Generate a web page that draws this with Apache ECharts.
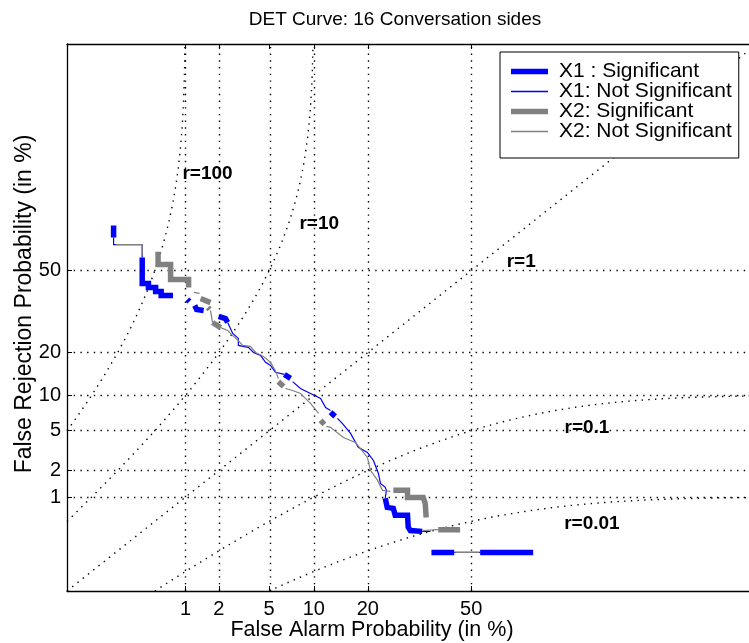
<!DOCTYPE html>
<html><head><meta charset="utf-8">
<script src="https://cdn.jsdelivr.net/npm/echarts@6/dist/echarts.min.js"></script>
<style>html,body{margin:0;padding:0;background:#fff}#c{width:749px;height:643px}</style>
</head><body><div id="c"></div>
<script>
// ---- data (probabilities in %) ----
const tickValues = [1, 2, 5, 10, 20, 50];
const tickLabels = ['1', '2', '5', '10', '20', '50'];
const axisRange = [0.05, 99];
const rValues = [100, 10, 1, 0.1, 0.01];
const rLabels = ['r=100', 'r=10', 'r=1', 'r=0.1', 'r=0.01'];
const rLabelPos = [[1.59, 84.0], [10.8, 68.5], [65.8, 53.7], [82.7, 5.36], [83.7, 0.47]];

// X1 significant (thick blue) segments: [Pfa, Pmiss]
const x1Sig = [
  [[0.18, 67.8], [0.18, 63.3]],
  [[0.37, 55.3], [0.37, 44.7], [0.43, 44.7], [0.43, 43.1], [0.51, 43.1], [0.51, 41.5], [0.58, 41.5], [0.58, 39.9], [0.76, 39.9]],
  [[1.04, 38.3], [1.09, 37.5]],
  [[1.22, 36.0], [1.27, 34.5], [1.47, 34.1]],
  [[1.99, 31.9], [2.27, 31.1], [2.37, 29.7]],
  [[6.42, 14.3], [7.07, 13.4]],
  [[12.6, 7.28], [13.4, 6.71]],
  [[24.2, 0.97], [24.7, 0.75], [26.3, 0.73], [26.8, 0.60], [30.2, 0.60], [30.4, 0.42], [31.0, 0.38], [34.5, 0.37]],
  [[37.3, 0.19], [44.5, 0.19]],
  [[52.9, 0.19], [69.3, 0.19]]
];
// X1 not significant (thin blue)
const x1NotSig = [
  [[0.18, 63.3], [0.18, 60.5], [0.37, 60.5], [0.37, 55.3]],
  [[2.37, 29.7], [2.61, 25.9], [2.90, 24.3], [2.90, 22.1], [3.48, 21.5], [3.82, 20.0], [4.32, 19.2], [4.70, 17.3], [5.12, 16.5], [5.55, 14.8], [6.42, 14.3]],
  [[7.30, 12.7], [8.22, 11.3], [9.54, 10.35], [11.0, 9.46], [11.8, 7.99], [12.6, 7.55]],
  [[13.8, 6.45], [14.7, 5.82], [16.3, 4.72], [17.9, 3.47], [19.9, 3.09], [21.3, 2.56], [22.5, 1.86], [23.0, 1.44], [24.2, 1.30], [24.5, 1.20], [24.2, 0.97]],
  [[34.5, 0.37], [37.0, 0.37]],
  [[44.5, 0.19], [52.9, 0.19]]
];
// X2 significant (thick gray)
const x2Sig = [
  [[0.54, 57.7], [0.54, 52.5], [0.72, 52.5], [0.72, 46.3], [1.07, 46.3], [1.07, 43.1]],
  [[1.38, 38.7], [1.69, 37.1]],
  [[1.60, 35.2], [1.66, 34.5]],
  [[1.76, 29.7], [2.07, 27.9]],
  [[5.82, 12.7], [6.33, 11.7]],
  [[11.0, 6.19], [11.6, 5.71]],
  [[26.3, 1.20], [30.2, 1.20], [30.2, 0.99], [34.8, 0.99], [35.4, 0.84], [35.7, 0.56]],
  [[39.4, 0.39], [46.4, 0.39]]
];
// X2 not significant (thin gray)
const x2NotSig = [
  [[0.19, 60.5], [0.37, 60.5], [0.37, 56.1]],
  [[1.20, 41.1], [1.35, 40.7]],
  [[1.69, 34.1], [1.76, 29.7]],
  [[2.07, 27.9], [2.37, 26.9], [2.61, 25.2], [2.90, 23.6], [3.14, 22.1], [3.61, 21.8], [3.96, 20.0], [4.54, 18.9], [5.12, 17.3], [5.55, 15.2], [5.82, 13.4]],
  [[6.52, 11.3], [7.30, 10.9], [8.22, 10.35], [9.54, 8.62], [10.7, 7.13]],
  [[11.9, 5.47], [12.6, 5.37], [14.9, 4.33], [17.3, 3.88], [18.3, 3.39], [19.9, 2.75], [20.6, 2.01], [22.3, 1.56], [23.5, 1.20], [25.5, 1.17]],
  [[34.8, 0.38], [39.4, 0.39]],
  [[44.8, 0.19], [52.6, 0.19]]
];

// ---- normal deviate scale ----
function probit(p) {
  const a = [-3.969683028665376e+01, 2.209460984245205e+02, -2.759285104469687e+02, 1.383577518672690e+02, -3.066479806614716e+01, 2.506628277459239e+00];
  const b = [-5.447609879822406e+01, 1.615858368580409e+02, -1.556989798598866e+02, 6.680131188771972e+01, -1.328068155288572e+01];
  const c = [-7.784894002430293e-03, -3.223964580411365e-01, -2.400758277161838e+00, -2.549732539343734e+00, 4.374664141464968e+00, 2.938163982698783e+00];
  const d = [7.784695709041462e-03, 3.224671290700398e-01, 2.445134137142996e+00, 3.754408661907416e+00];
  const pl = 0.02425, ph = 1 - pl;
  let q, r;
  if (p < pl) { q = Math.sqrt(-2 * Math.log(p)); return (((((c[0]*q+c[1])*q+c[2])*q+c[3])*q+c[4])*q+c[5]) / ((((d[0]*q+d[1])*q+d[2])*q+d[3])*q+1); }
  if (p <= ph) { q = p - 0.5; r = q*q; return (((((a[0]*r+a[1])*r+a[2])*r+a[3])*r+a[4])*r+a[5])*q / (((((b[0]*r+b[1])*r+b[2])*r+b[3])*r+b[4])*r+1); }
  q = Math.sqrt(-2 * Math.log(1 - p)); return -(((((c[0]*q+c[1])*q+c[2])*q+c[3])*q+c[4])*q+c[5]) / ((((d[0]*q+d[1])*q+d[2])*q+d[3])*q+1);
}
const P = v => probit(v / 100);
const zTicks = tickValues.map(P);
const zMin = P(axisRange[0]), zMax = P(axisRange[1]);
const tickFmt = v => { const i = zTicks.findIndex(z => Math.abs(z - v) < 1e-6); return i >= 0 ? tickLabels[i] : ''; };

const FONT = 'Liberation Sans';
const BLUE = '#0000ff', GRAY = '#808080';
const dotted = { color: '#000', width: 1.4, type: [1.4, 5.3] };

const series = [];
// reference r-lines: Pmiss = r * Pfa
rValues.forEach((r, k) => {
  const pmin = axisRange[0] / 100, pmax = axisRange[1] / 100;
  const lo = Math.max(pmin, pmin / r), hi = Math.min(pmax, pmax / r);
  const pts = [];
  const N = 500;
  for (let i = 0; i <= N; i++) {
    const pfa = lo * Math.pow(hi / lo, i / N);
    pts.push([probit(pfa), probit(Math.min(r * pfa, pmax))]);
  }
  const s = { type: 'line', name: 'r' + k, data: pts, symbol: 'none', silent: true, lineStyle: dotted, z: 1 };
  if (k === 0) {
    s.markLine = {
      silent: true, symbol: 'none', label: { show: false }, lineStyle: dotted, animation: false,
      data: [...zTicks.map(z => ({ xAxis: z })), ...zTicks.map(z => ({ yAxis: z }))]
    };
  }
  series.push(s);
});
series.push({
  type: 'scatter', name: 'rlabels', symbol: 'circle', symbolSize: 1, silent: true, z: 3,
  itemStyle: { color: 'rgba(255,255,255,0)' },
  data: rLabelPos.map((p, i) => ({ value: [P(p[0]), P(p[1])], label: { formatter: rLabels[i] } })),
  label: { show: true, position: 'inside', color: '#000', textBorderWidth: 0, opacity: 1, fontSize: 19, fontWeight: 'bold', fontFamily: FONT }
});
function addSegs(name, segs, color, width, z) {
  segs.forEach(seg => series.push({
    type: 'line', name, data: seg.map(([x, y]) => [P(x), P(y)]), symbol: 'none', showSymbol: false, silent: true, z,
    lineStyle: { color, width, cap: 'butt', join: 'miter' }, itemStyle: { color }
  }));
}
const names = ['X1 : Significant', 'X1: Not Significant', 'X2: Significant', 'X2: Not Significant'];
addSegs(names[0], x1Sig, BLUE, 5.5, 4);
addSegs(names[1], x1NotSig, BLUE, 1.2, 5);
addSegs(names[2], x2Sig, GRAY, 5.5, 6);
addSegs(names[3], x2NotSig, GRAY, 1.2, 7);

const chart = echarts.init(document.getElementById('c'), null, { renderer: 'canvas' });
const axisCommon = {
  type: 'value', min: zMin, max: zMax, splitLine: { show: false },
  axisLine: { show: true, onZero: false, lineStyle: { color: '#000', width: 1.3 } },
  axisTick: { show: true, inside: true, length: 5, customValues: zTicks, lineStyle: { color: '#000', width: 1 } }
};
const thick = 'path://M0,0H37V5.5H0Z', thin = 'path://M0,0H37V1.3H0Z';
chart.setOption({
  animation: false,
  backgroundColor: '#fff',
  textStyle: { fontFamily: FONT },
  title: { text: 'DET Curve: 16 Conversation sides', left: 390, top: 5, textAlign: 'center',
    textStyle: { fontSize: 19, fontWeight: 'normal', color: '#000', fontFamily: FONT } },
  grid: { left: 67, top: 44, right: -8, bottom: 52, show: false, outerBoundsMode: 'none', containLabel: false },
  legend: {
    orient: 'vertical', left: 500, top: 52, selectedMode: false,
    backgroundColor: '#fff', borderColor: '#000', borderWidth: 1, borderRadius: 0,
    padding: [9, 7, 16, 11], itemWidth: 37, itemHeight: 19.5, itemGap: -1,
    textStyle: { fontSize: 21, lineHeight: 19.5, color: '#000', fontFamily: FONT, padding: [0, 0, 0, 6] },
    data: [
      { name: names[0], icon: thick, itemStyle: { color: BLUE } },
      { name: names[1], icon: thin, itemStyle: { color: BLUE } },
      { name: names[2], icon: thick, itemStyle: { color: GRAY } },
      { name: names[3], icon: thin, itemStyle: { color: GRAY } }
    ]
  },
  xAxis: [
    Object.assign({}, axisCommon, { position: 'bottom', name: 'False Alarm Probability (in %)', nameLocation: 'middle', nameGap: 28, nameMoveOverlap: false,
      nameTextStyle: { fontSize: 21.5, color: '#000', fontFamily: FONT, padding: [0, 80, 0, 0] },
      axisLabel: { customValues: zTicks, formatter: tickFmt, fontSize: 20, color: '#000', margin: 8, fontFamily: FONT } }),
    Object.assign({}, axisCommon, { position: 'top', axisLabel: { show: false } })
  ],
  yAxis: [
    Object.assign({}, axisCommon, { position: 'left', name: 'False Rejection Probability (in %)', nameLocation: 'middle', nameGap: 31, nameRotate: 90, nameMoveOverlap: false,
      nameTextStyle: { fontSize: 23, color: '#000', fontFamily: FONT, padding: [0, 0, 0, 27] },
      axisLabel: { customValues: zTicks, formatter: tickFmt, fontSize: 20, color: '#000', margin: 6, fontFamily: FONT } })
  ],
  series
});
</script></body></html>
